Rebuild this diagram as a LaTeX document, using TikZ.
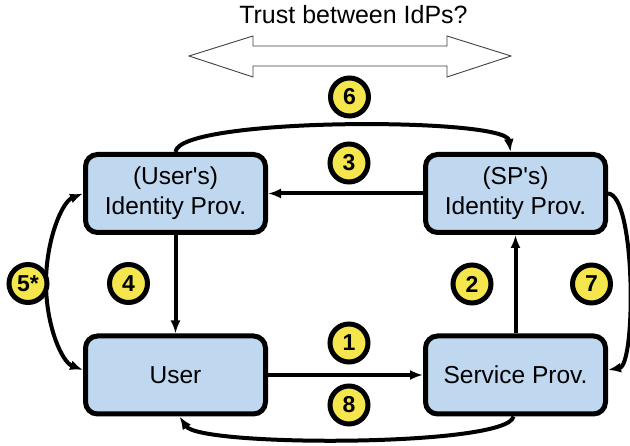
\documentclass[tikz,border=0pt]{standalone}
\usepackage{fontspec}
\setmainfont{Liberation Sans}
\usetikzlibrary{arrows.meta,calc}
\definecolor{boxblue}{RGB}{191,215,239}
\definecolor{numyellow}{RGB}{244,230,76}
\begin{document}
\begin{tikzpicture}[x=1pt,y=-1pt,
  entity/.style={draw=black, line width=5pt, fill=boxblue, rounded corners=12pt,
    minimum width=180pt, minimum height=78pt, align=center,
    font=\fontsize{24.5}{30}\selectfont, inner sep=0pt},
  num/.style={circle, draw=black, line width=5pt, fill=numyellow, minimum size=38pt,
    inner sep=0pt, font=\fontsize{23}{23}\bfseries\selectfont},
  conn/.style={line width=4pt, -{Latex[length=13pt,width=10pt]}},
  biconn/.style={line width=4pt, {Latex[length=13pt,width=10pt]}-{Latex[length=13pt,width=10pt]}},
  trust/.style={line width=0.9pt, draw=black!75, fill=white}
  ]
\useasboundingbox (0,0) rectangle (630,446);

% title and hollow double arrow
\node[anchor=base, font=\fontsize{25}{25}\selectfont, inner sep=0pt] (title) at (353.5,24) {Trust between IdPs?};
\draw[trust] (189,56) -- (253,36) -- (253,46) -- (447,46) -- (447,36) -- (511,56)
  -- (447,77) -- (447,66) -- (253,66) -- (253,77) -- cycle;

% boxes
\node[entity] (uidp) at (175.5,193.5) {(User\textquotesingle s)\\Identity Prov.};
\node[entity] (sidp) at (515.5,193.5) {(SP\textquotesingle s)\\Identity Prov.};
\node[entity] (user) at (175.5,375) {User};
\node[entity] (sp)   at (515.5,375) {Service Prov.};

% connectors
\draw[conn] (sidp.west) -- (uidp.east);
\draw[conn] (uidp.south) -- (user.north);
\draw[conn] (user.east) -- (sp.west);
\draw[conn] (sp.north) -- (sidp.south);
\draw[conn] (uidp.north) .. controls (178,117) and (506,117) .. ($(sidp.north)+(-5,0)$);
\draw[conn] (sidp.east) .. controls (636,195) and (636,365) .. ($(sp.east)+(0,-5)$);
\draw[conn] ($(sp.south)+(-2,0)$) .. controls (508,447) and (200,447) .. ($(user.south)+(4,0)$);
\draw[biconn] (uidp.west) .. controls (62,202) and (46,240) .. (46,283)
  .. controls (46,326) and (62,362) .. ($(user.west)+(0,-5)$);

% number badges
\node[num] (n6) at (349.5,97) {6};
\node[num] (n3) at (349,163) {3};
\node[num] (n5) at (28,283.5) {5*};
\node[num] (n4) at (128.5,283.5) {4};
\node[num] (n2) at (472,284) {2};
\node[num] (n7) at (591.5,284) {7};
\node[num] (n1) at (349,343) {1};
\node[num] (n8) at (349,405) {8};
\end{tikzpicture}
\end{document}
